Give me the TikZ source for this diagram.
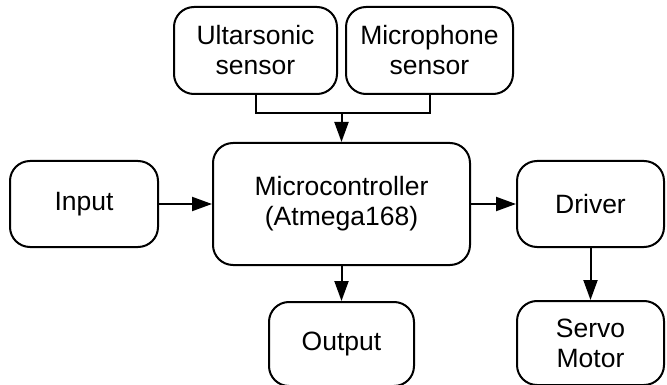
\documentclass[tikz,border=0pt]{standalone}
\usepackage{fontspec}
\setmainfont{Liberation Sans}
\usepackage{tikz}
\usetikzlibrary{arrows.meta, positioning}

\begin{document}
\begin{tikzpicture}[
    x=1pt, y=1pt,
    block/.style={draw, line width=2pt, rounded corners=20pt, align=center, inner sep=0pt, font=\fontsize{26.5}{30}\selectfont},
    link/.style={draw, line width=2pt, -{Triangle[length=20pt, width=14pt]}}
]
    \useasboundingbox (0,0) rectangle (667,-385);
    \node [block, minimum width=257pt, minimum height=122pt] (micro) at (341.5,-204) {Microcontroller\\(Atmega168)};
    \node [block, minimum width=148pt, minimum height=86pt, left=53pt of micro] (input) {Input};
    \node [block, minimum width=147pt, minimum height=86pt, right=45pt of micro] (driver) {Driver};
    \node [block, minimum width=163pt, minimum height=87pt, anchor=south east, above left=47pt and 3.5pt of micro.north] (ultra) {Ultarsonic\\sensor};
    \node [block, minimum width=167pt, minimum height=87pt, anchor=south west, above right=47pt and 3.5pt of micro.north] (mic) {Microphone\\sensor};
    \node [block, minimum width=145pt, minimum height=84pt, below=35pt of micro] (output) {Output};
    \node [block, minimum width=147pt, minimum height=84pt, below=52pt of driver] (servo) {Servo\\Motor};
    \coordinate [above=29pt of micro.north] (join);

    \draw [line width=2pt] (ultra.south) |- (join) -| (mic.south);
    \draw [link] (join) -- (micro);
    \draw [link] (input) -- (micro);
    \draw [link] (micro) -- (driver);
    \draw [link] (micro) -- (output);
    \draw [link] (driver) -- (servo);
\end{tikzpicture}
\end{document}
